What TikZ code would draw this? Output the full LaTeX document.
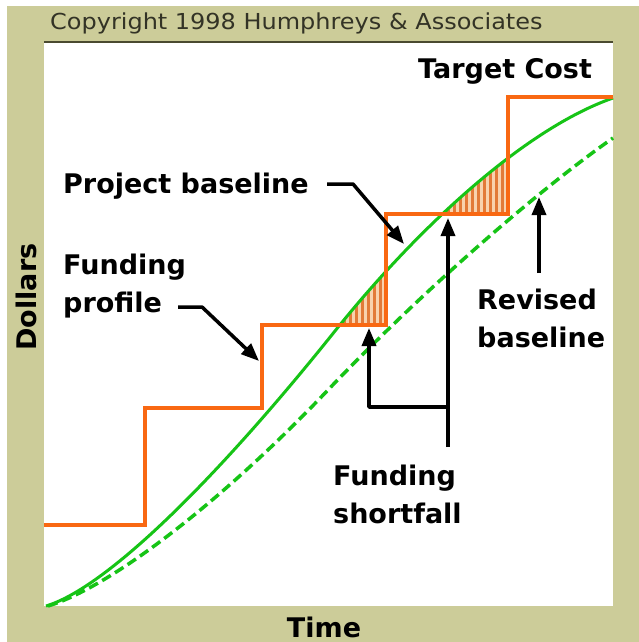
\documentclass[tikz,border=0pt]{standalone}
\usepackage{fontspec}
\setmainfont{DejaVu Sans}
\newfontfamily\cpfont[FakeStretch=1.09]{DejaVu Sans}
\usetikzlibrary{arrows.meta}
\definecolor{khaki}{HTML}{CCCC99}
\definecolor{rule}{HTML}{4A4A30}
\definecolor{cptext}{HTML}{333326}
\definecolor{fundorange}{HTML}{F96812}
\definecolor{peach}{HTML}{F8D2AE}
\definecolor{stripeor}{HTML}{E27A38}
\definecolor{basegreen}{HTML}{16C416}
\begin{document}
\begin{tikzpicture}[x=1pt,y=-1pt,
  lab/.style={font=\bfseries\fontsize{27}{37.5}\selectfont, inner sep=0pt, align=left},
  ptr/.style={draw=black, line width=3.5pt, line join=round, -{Triangle[length=18pt,width=14pt]}},
  fund/.style={draw=fundorange, line width=4pt, line join=miter},
  base/.style={draw=basegreen, line width=3pt},
  revbase/.style={draw=basegreen, line width=3.5pt, dash pattern=on 10pt off 5pt},
  stripe/.style={draw=stripeor, line width=3pt}]
\useasboundingbox (0,0) rectangle (639,642);
\fill[white] (0,0) rectangle (639,642);
\fill[khaki] (7,6) rectangle (639,642);
\fill[white] (44,43) rectangle (613,606);
\draw[rule, line width=2.5pt] (44,42) -- (613,42);

% hatched shortfall areas (below the project baseline, above the funding steps)
\begin{scope}
  \clip (46,606) .. controls (106,588) and (215,481) .. (335,331)
        .. controls (415,231) and (523,129.5) .. (613,98) -- (613,606) -- cycle;
  \fill[peach] (330,200) rectangle (386,325);
  \fill[peach] (425,100) rectangle (508,214);
  \foreach \x in {338,344,...,386} \draw[stripe] (\x,200) -- (\x,325);
  \foreach \x in {430,436,...,508} \draw[stripe] (\x,100) -- (\x,214);
\end{scope}

% revised baseline (dashed) and project baseline (solid)
\draw[revbase] (48,606) .. controls (108,588) and (217,506.5) .. (327,391)
        .. controls (417,296.5) and (533,194) .. (613,138);
\draw[base] (46,606) .. controls (106,588) and (215,481) .. (335,331)
        .. controls (415,231) and (523,129.5) .. (613,98);

% funding profile
\draw[fund] (44,525) -- (145,525) -- (145,408) -- (262,408) -- (262,325) -- (386,325) -- (386,214) -- (508,214) -- (508,97) -- (613,97);

% texts
\node[anchor=base west, text=cptext, inner sep=0pt, font=\cpfont\fontsize{22}{26}\selectfont] (cp) at (50,30) {Copyright 1998 Humphreys \& Associates};
\node[lab, anchor=base west] (tc) at (418,78) {Target Cost};
\node[lab, anchor=base west] (pb) at (63,193) {Project baseline};
\node[lab, anchor=base west] (fp) at (63,312) {Funding\\profile};
\node[lab, anchor=base west] (rb) at (477,347) {Revised\\baseline};
\node[lab, anchor=base west] (fs) at (333,523) {Funding\\shortfall};
\node[lab, anchor=base, rotate=90] (dol) at (36,297) {Dollars};
\node[lab, anchor=base] (time) at (324,637) {Time};

% pointer coordinates
\coordinate (pbs) at (327,184);
\coordinate (pbt) at (404,244);
\coordinate (fps) at (178,307);
\coordinate (fpt) at (259,361);
\coordinate (rbs) at (539,273);
\coordinate (rbt) at (539,197);
\coordinate (fss) at (448,447);
\coordinate (fsj) at (448,407);
\coordinate (fst1) at (448,218);
\coordinate (fst2) at (369,328);

\draw[ptr] (pbs) -- ++(26,0) -- (pbt);
\draw[ptr] (fps) -- ++(24,0) -- (fpt);
\draw[ptr] (rbs) -- (rbt);
\draw[ptr] (fss) -- (fst1);
\draw[ptr] (fsj) -| (fst2);
\end{tikzpicture}
\end{document}
